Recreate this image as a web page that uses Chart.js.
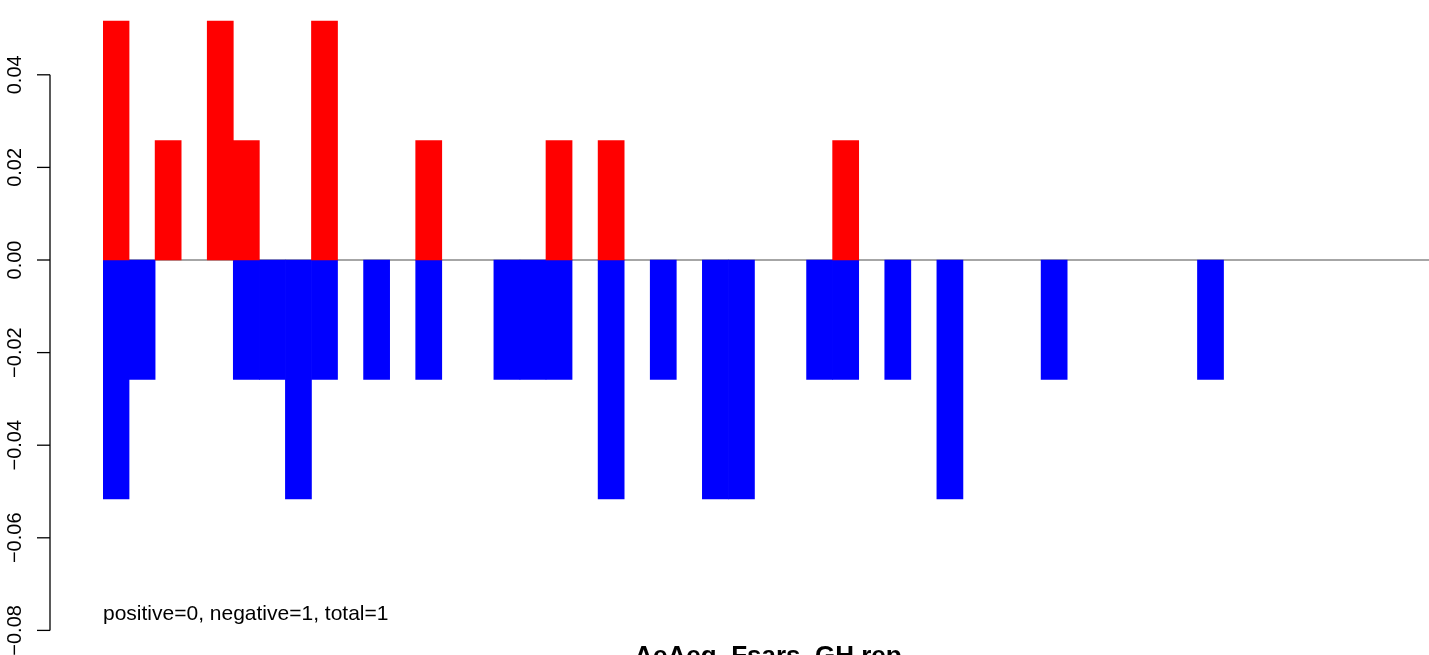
<!DOCTYPE html>
<html>
<head>
<meta charset="utf-8">
<script src="https://cdn.jsdelivr.net/npm/chart.js@4/dist/chart.umd.min.js"></script>
<style>
  html, body { margin: 0; padding: 0; background: #fff; overflow: hidden; }
  #wrap { width: 1432px; height: 655px; position: relative; }
</style>
</head>
<body>
<div id="wrap"><canvas id="c"></canvas></div>
<script>
// one slot per bin, left to right; null = no bar in that slot
const slots = Array.from({ length: 51 }, (_, i) => String(i));
const _ = null;

const positive = [
  0.0516, _, 0.0258, _, 0.0516, 0.0258, _, _, 0.0516, _,
  _, _, 0.0258, _, _, _, _, 0.0258, _, 0.0258,
  _, _, _, _, _, _, _, _, 0.0258, _,
  _, _, _, _, _, _, _, _, _, _,
  _, _, _, _, _, _, _, _, _, _, _
];

const negative = [
  -0.0516, -0.0258, _, _, _, -0.0258, -0.0258, -0.0516, -0.0258, _,
  -0.0258, _, -0.0258, _, _, -0.0258, -0.0258, -0.0258, _, -0.0516,
  _, -0.0258, _, -0.0516, -0.0516, _, _, -0.0258, -0.0258, _,
  -0.0258, _, -0.0516, _, _, _, -0.0258, _, _, _,
  _, _, -0.0258, _, _, _, _, _, _, _, _
];

const yTicks = [0.04, 0.02, 0.00, -0.02, -0.04, -0.06, -0.08];
const note = 'positive=0, negative=1, total=1';
const title = 'AeAeg_Fsars_GH.rep';

const fmt = v => (v < 0 ? '\u2212' : '') + Math.abs(v).toFixed(2);

// grey reference line at zero, under the bars
const zeroLine = {
  id: 'zeroLine',
  beforeDatasetsDraw(chart) {
    const c = chart.ctx;
    const py = Math.round(chart.scales.y.getPixelForValue(0));
    c.save();
    c.fillStyle = '#a6a6a6';
    c.fillRect(chart.chartArea.left, py - 1, chart.chartArea.right - chart.chartArea.left, 2);
    c.restore();
  }
};

// R style left axis, set apart from the plot region
const rAxis = {
  id: 'rAxis',
  afterDraw(chart) {
    const c = chart.ctx;
    const y = chart.scales.y;
    const ax = 50;
    c.save();
    c.strokeStyle = '#000';
    c.lineWidth = 1.3;
    c.beginPath();
    c.moveTo(ax, y.getPixelForValue(yTicks[0]));
    c.lineTo(ax, y.getPixelForValue(yTicks[yTicks.length - 1]));
    c.stroke();
    c.fillStyle = '#000';
    c.font = '20px "Liberation Sans", Arial, sans-serif';
    c.textAlign = 'center';
    c.textBaseline = 'alphabetic';
    yTicks.forEach(v => {
      const py = y.getPixelForValue(v);
      c.beginPath();
      c.moveTo(37, py);
      c.lineTo(ax, py);
      c.stroke();
      c.save();
      c.translate(20.5, py);
      c.rotate(-Math.PI / 2);
      c.fillText(fmt(v), 0, 0);
      c.restore();
    });

    c.textAlign = 'left';
    c.font = '21px "Liberation Sans", Arial, sans-serif';
    c.fillText(note, chart.chartArea.left, 620);

    c.textAlign = 'center';
    c.font = 'bold 26px "Liberation Sans", Arial, sans-serif';
    c.fillText(title, 768, 664);
    c.restore();
  }
};

new Chart(document.getElementById('c'), {
  type: 'bar',
  data: {
    labels: slots,
    datasets: [
      { label: 'positive', data: positive, backgroundColor: '#ff0000', stack: 's' },
      { label: 'negative', data: negative, backgroundColor: '#0000ff', stack: 's' }
    ]
  },
  options: {
    responsive: true,
    maintainAspectRatio: false,
    animation: false,
    layout: { padding: 0 },
    plugins: {
      legend: { display: false },
      tooltip: { enabled: false }
    },
    datasets: {
      bar: { barPercentage: 1, categoryPercentage: 1, borderWidth: 0 }
    },
    scales: {
      x: {
        display: false,
        stacked: true
      },
      y: {
        stacked: true,
        min: -0.085313,
        max: 0.056156,
        ticks: { display: false, stepSize: 0.02, includeBounds: false },
        border: { display: false },
        grid: { display: false, drawTicks: false },
        afterFit(scale) { scale.width = 103; }
      }
    }
  },
  plugins: [zeroLine, rAxis]
});
</script>
</body>
</html>
